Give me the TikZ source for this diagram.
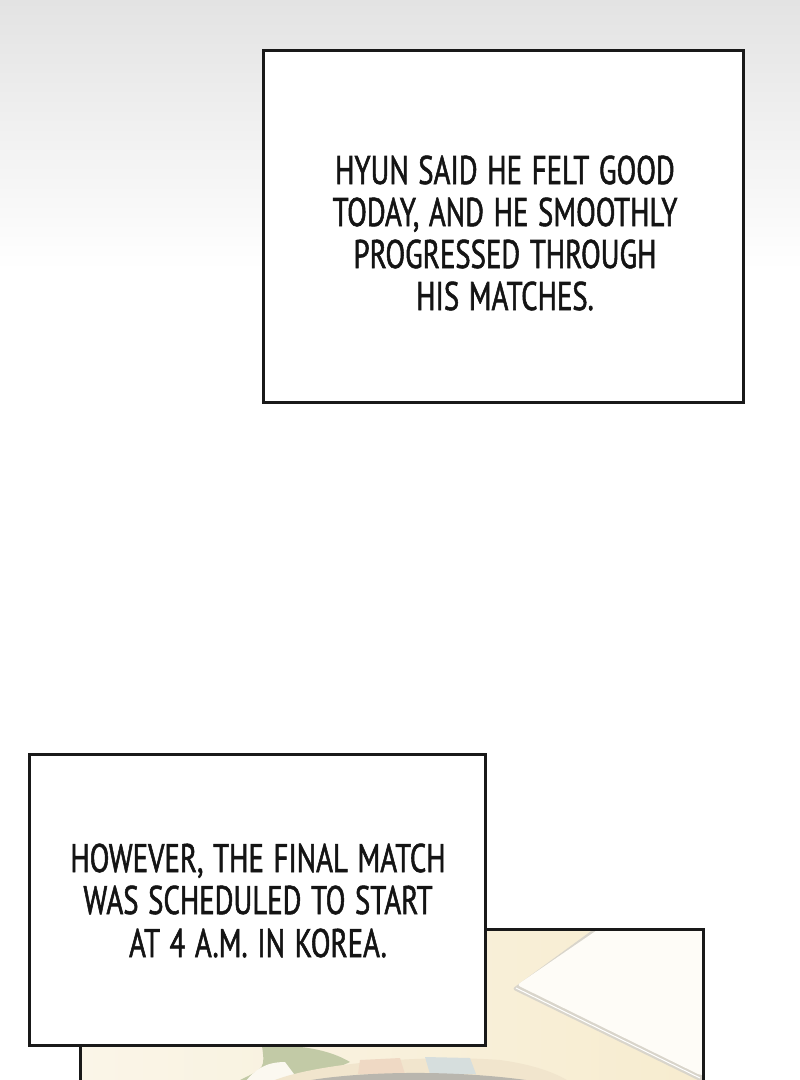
\documentclass[tikz,border=0pt]{standalone}
\usepackage{fontspec}
\setmainfont{PT Sans}[FakeStretch=0.72,FakeBold=1.3,WordSpace=1.25]
\definecolor{creamL}{HTML}{FAF5E8}
\definecolor{creamR}{HTML}{F7ECCF}
\definecolor{tabface}{HTML}{FEFCF7}
\definecolor{tabrim}{HTML}{D9D5CB}
\definecolor{leaf}{HTML}{C2CAA6}
\definecolor{ringW}{HTML}{FBF8F0}
\definecolor{ringA}{HTML}{F1E5CD}
\definecolor{ringB}{HTML}{D6DEDD}
\definecolor{ringC}{HTML}{EFD9C4}
\definecolor{ringD}{HTML}{B9B6AE}
\begin{document}
\begin{tikzpicture}[x=1pt,y=-1pt,
  frame/.style={draw=black!90,line width=3pt,fill=white},
  captxt/.style={font=\fontsize{40}{43}\selectfont,text=black!92,inner sep=0pt,anchor=base},
  ]
\useasboundingbox (0,0) rectangle (800,1080);
\clip (0,0) rectangle (800,1080);
% background
\fill[white] (0,0) rectangle (800,1080);
\shade[top color=black!11,bottom color=white] (0,0) rectangle (800,270);
% bottom picture panel
\begin{scope}
\clip (80,929) rectangle (703,1090);
\shade[left color=creamL,right color=creamR] (80,929) rectangle (703,1090);
% tablet
\fill[tabrim,rounded corners=3pt] (512,989) -- (598,926) -- (706,926) -- (706,1084) -- cycle;
\fill[tabface,rounded corners=3pt] (517,985) -- (603,926) -- (706,926) -- (706,1075) -- (700,1075) -- cycle;
\draw[white,line width=1pt] (516,988) -- (700,1078);
% green leaf
\fill[leaf] (262,1046) .. controls (300,1044) and (330,1050) .. (350,1062) -- (310,1080) -- (240,1080) .. controls (265,1068) .. (262,1046) -- cycle;
% ring object
\fill[ringW] (245,1082) .. controls (255,1070) and (265,1062) .. (285,1062) -- (300,1082) -- cycle;
\fill[ringA] (270,1082) .. controls (310,1064) and (420,1054) .. (500,1060) .. controls (530,1064) and (555,1072) .. (570,1082) -- cycle;
\fill[ringB] (425,1057) -- (470,1058) -- (476,1074) -- (430,1074) -- cycle;
\fill[ringC] (360,1060) -- (400,1058) -- (405,1074) -- (358,1074) -- cycle;
\fill[ringD] (300,1082) .. controls (350,1072) and (450,1068) .. (540,1082) -- cycle;
\end{scope}
\draw[black!90,line width=3pt] (80,1090) -- (80,929) -- (703,929) -- (703,1090);
% caption box 1
\node[frame,minimum width=480pt,minimum height=352pt,inner sep=0pt] (box1) at (503,226) {};
\node[captxt] (l1a) at (505,184) {HYUN SAID HE FELT GOOD};
\node[captxt] (l1b) at (505,226) {TODAY, AND HE SMOOTHLY};
\node[captxt] (l1c) at (505,268) {PROGRESSED THROUGH};
\node[captxt] (l1d) at (505,310) {HIS MATCHES.};
% caption box 2
\node[frame,minimum width=456pt,minimum height=291pt,inner sep=0pt] (box2) at (257,900) {};
\node[captxt] (l2a) at (258,872) {HOWEVER, THE FINAL MATCH};
\node[captxt] (l2b) at (258,914) {WAS SCHEDULED TO START};
\node[captxt] (l2c) at (258,957) {AT 4 A.M. IN KOREA.};
\end{tikzpicture}
\end{document}
